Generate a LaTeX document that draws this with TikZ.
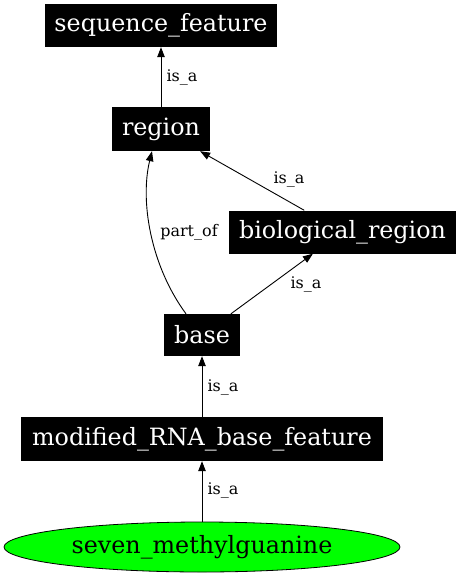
\documentclass[tikz,border=0pt]{standalone}
\usepackage{fontspec}
\setmainfont{DejaVu Serif}
\usetikzlibrary{arrows.meta,shapes.geometric}
\definecolor{nodegreen}{RGB}{0,255,0}
\begin{document}
\begin{tikzpicture}[x=1pt,y=-1pt,
  box/.style={rectangle,fill=black,text=white,inner sep=0pt,font=\fontsize{23.8}{28}\selectfont},
  lbl/.style={inner sep=0pt,font=\fontsize{16}{19}\selectfont},
  edge/.style={draw=black,line width=0.9pt,-{Triangle[length=10pt,width=7.5pt]}}]
\useasboundingbox (0,0) rectangle (461,576);
\node[box,minimum width=232pt,minimum height=43pt] (sf) at (161,25.5) {sequence\_feature};
\node[box,minimum width=98pt,minimum height=44pt] (region) at (161,129) {region};
\node[box,minimum width=227pt,minimum height=43pt] (bio) at (342.5,232) {biological\_region};
\node[box,minimum width=76pt,minimum height=42pt] (base) at (202,335) {base};
\node[box,minimum width=362pt,minimum height=44pt] (mod) at (202,439) {modified\_RNA\_base\_feature};
\node[ellipse,draw=black,line width=0.8pt,fill=nodegreen,inner sep=0pt,minimum width=396pt,minimum height=50pt,font=\fontsize{23.8}{28}\selectfont] (seven) at (202,547) {seven\_methylguanine};
\draw[edge] (region.north) -- (sf.south);
\draw[edge] (bio) -- (region);
\draw[edge] ([xshift=-16pt]base.north) .. controls +(-36,-49) and +(-12,49) .. ([xshift=-9pt]region.south);
\draw[edge] (base) -- (bio);
\draw[edge] (mod.north) -- (base.south);
\draw[edge] (seven.north) -- (mod.south);
\node[lbl] (l1) at (182,77) {is\_a};
\node[lbl] (l2) at (289,179) {is\_a};
\node[lbl] (l3) at (189,232) {part\_of};
\node[lbl] (l4) at (306,284) {is\_a};
\node[lbl] (l5) at (223,387) {is\_a};
\node[lbl] (l6) at (223,490) {is\_a};
\end{tikzpicture}
\end{document}
